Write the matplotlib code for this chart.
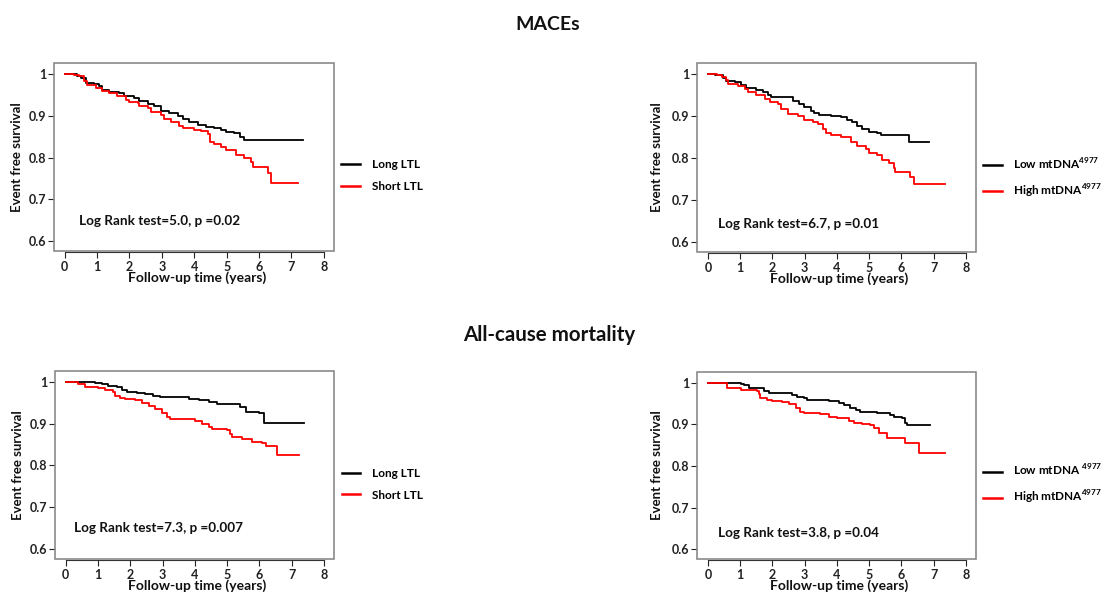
import matplotlib
matplotlib.use('Agg')
import matplotlib.pyplot as plt
from matplotlib.patches import Rectangle

plt.rcParams['font.family'] = ['Lato', 'DejaVu Sans']
plt.rcParams['font.weight'] = 'bold'
plt.rcParams['mathtext.fontset'] = 'custom'
plt.rcParams['mathtext.bf'] = 'Lato:bold'
plt.rcParams['mathtext.rm'] = 'Lato:bold'

# MACEs - telomere length (LTL)
maces_long_t = [0, 0.13, 0.39, 0.50, 0.65, 0.91, 1.06, 1.16, 1.37, 1.68, 1.84, 2.15, 2.30, 2.56, 2.76,
                2.97, 3.23, 3.49, 3.64, 3.85, 4.11, 4.37, 4.62, 4.83, 4.98, 5.24, 5.40, 5.55, 7.36]
maces_long_s = [1.0, 0.999, 0.995, 0.989, 0.978, 0.975, 0.970, 0.962, 0.957, 0.954, 0.948, 0.943, 0.934,
                0.927, 0.922, 0.912, 0.906, 0.899, 0.891, 0.884, 0.878, 0.872, 0.870, 0.866, 0.862, 0.859,
                0.849, 0.842, 0.842]
maces_short_t = [0, 0.29, 0.44, 0.60, 0.70, 0.96, 1.16, 1.37, 1.63, 1.89, 1.99, 2.25, 2.30, 2.56, 2.66,
                 2.97, 3.07, 3.28, 3.54, 3.64, 4.00, 4.21, 4.41, 4.47, 4.62, 4.83, 4.98, 5.29, 5.55, 5.76,
                 5.81, 6.27, 6.38, 7.20]
maces_short_s = [1.0, 0.997, 0.994, 0.983, 0.973, 0.965, 0.960, 0.954, 0.948, 0.938, 0.932, 0.930, 0.922,
                 0.918, 0.908, 0.902, 0.892, 0.884, 0.876, 0.870, 0.867, 0.864, 0.857, 0.838, 0.832, 0.825,
                 0.817, 0.807, 0.799, 0.789, 0.778, 0.762, 0.740, 0.740]

# MACEs - mtDNA4977 deletion
maces_low_t = [0, 0.22, 0.47, 0.57, 0.83, 1.04, 1.19, 1.50, 1.71, 1.86, 1.96, 2.63, 2.84, 2.99, 3.20,
               3.30, 3.46, 3.81, 4.12, 4.33, 4.48, 4.64, 4.79, 5.00, 5.26, 5.36, 6.23, 6.85]
maces_low_s = [1.0, 0.998, 0.991, 0.983, 0.980, 0.973, 0.967, 0.961, 0.956, 0.949, 0.945, 0.935, 0.929,
               0.921, 0.913, 0.907, 0.902, 0.901, 0.897, 0.891, 0.885, 0.877, 0.870, 0.862, 0.859, 0.854,
               0.839, 0.839]
maces_high_t = [0, 0.27, 0.42, 0.57, 0.63, 0.94, 1.14, 1.24, 1.50, 1.76, 1.91, 2.17, 2.27, 2.48, 2.79,
                2.99, 3.25, 3.40, 3.56, 3.66, 3.81, 4.12, 4.43, 4.64, 4.90, 5.00, 5.26, 5.41, 5.62, 5.77,
                5.82, 6.28, 6.39, 7.36]
maces_high_s = [1.0, 0.998, 0.993, 0.986, 0.977, 0.972, 0.965, 0.957, 0.949, 0.940, 0.933, 0.929, 0.917,
                0.905, 0.901, 0.891, 0.885, 0.881, 0.869, 0.859, 0.854, 0.849, 0.838, 0.828, 0.822, 0.812,
                0.808, 0.796, 0.788, 0.776, 0.766, 0.756, 0.738, 0.738]

# All-cause mortality - LTL
mort_long_t = [0, 0.60, 0.91, 1.12, 1.32, 1.58, 1.74, 1.89, 2.20, 2.46, 2.72, 2.93, 3.81, 4.12, 4.43,
               4.69, 5.41, 5.57, 5.98, 6.14, 7.38]
mort_long_s = [1.0, 0.999, 0.997, 0.995, 0.990, 0.987, 0.980, 0.976, 0.972, 0.970, 0.966, 0.963, 0.958,
               0.955, 0.951, 0.946, 0.939, 0.928, 0.925, 0.901, 0.901]
mort_short_t = [0, 0.19, 0.39, 0.60, 1.01, 1.22, 1.48, 1.53, 1.69, 1.84, 2.15, 2.36, 2.57, 2.77, 2.98,
                3.14, 3.24, 4.02, 4.22, 4.43, 4.53, 5.00, 5.10, 5.16, 5.47, 5.78, 6.09, 6.19, 6.55, 7.22]
mort_short_s = [1.0, 0.998, 0.995, 0.987, 0.984, 0.979, 0.974, 0.966, 0.961, 0.958, 0.957, 0.950, 0.942,
                0.934, 0.925, 0.915, 0.911, 0.905, 0.900, 0.892, 0.887, 0.884, 0.876, 0.869, 0.864, 0.857,
                0.854, 0.847, 0.824, 0.824]

# All-cause mortality - mtDNA4977
mort_low_t = [0, 0.55, 1.01, 1.12, 1.27, 1.53, 1.74, 1.89, 2.61, 2.77, 2.98, 3.08, 3.75, 4.06, 4.22,
              4.42, 4.58, 4.73, 5.25, 5.66, 5.77, 6.02, 6.13, 6.18, 6.90]
mort_low_s = [1.0, 0.999, 0.997, 0.994, 0.988, 0.986, 0.979, 0.976, 0.970, 0.966, 0.962, 0.958, 0.956,
              0.952, 0.946, 0.940, 0.934, 0.930, 0.927, 0.923, 0.918, 0.916, 0.903, 0.898, 0.898]
mort_high_t = [0, 0.13, 0.29, 0.60, 1.01, 1.27, 1.53, 1.58, 1.63, 1.84, 1.99, 2.30, 2.51, 2.72, 2.87,
               2.98, 3.49, 3.75, 4.01, 4.37, 4.53, 4.78, 5.04, 5.15, 5.30, 5.56, 6.13, 6.54, 7.37]
mort_high_s = [1.0, 0.999, 0.998, 0.986, 0.983, 0.982, 0.980, 0.972, 0.964, 0.959, 0.956, 0.954, 0.948,
               0.938, 0.930, 0.926, 0.924, 0.918, 0.914, 0.908, 0.903, 0.901, 0.898, 0.890, 0.879, 0.866,
               0.854, 0.831, 0.831]

ltl_labels = ['Long LTL', 'Short LTL']
mt_labels_top = [r'Low mtDNA$^{\mathbf{4977}}$', r'High mtDNA$^{\mathbf{4977}}$']
mt_labels_bot = [r'Low mtDNA $^{\mathbf{4977}}$', r'High mtDNA$^{\mathbf{4977}}$']

panels = [
    # axes rect, black curve, red curve, labels, stats text, text pos, legend y, ylabel x
    ([0.049, 0.5796, 0.254, 0.315], (maces_long_t, maces_long_s), (maces_short_t, maces_short_s),
     ltl_labels, 'Log Rank test=5.0, p =0.02', (0.089, 0.161), 0.402, -0.112),
    ([0.6328, 0.5779, 0.2526, 0.3166], (maces_low_t, maces_low_s), (maces_high_t, maces_high_s),
     mt_labels_top, 'Log Rank test=6.7, p =0.01', (0.074, 0.148), 0.392, -0.125),
    ([0.0499, 0.0637, 0.2532, 0.3154], (mort_long_t, mort_long_s), (mort_short_t, mort_short_s),
     ltl_labels, 'Log Rank test=7.3, p =0.007', (0.068, 0.165), 0.397, -0.112),
    ([0.6328, 0.0637, 0.2526, 0.3137], (mort_low_t, mort_low_s), (mort_high_t, mort_high_s),
     mt_labels_bot, 'Log Rank test=3.8, p =0.04', (0.074, 0.139), 0.396, -0.125),
]

fig = plt.figure(figsize=(11.02, 5.97), dpi=100)

for rect, black, red, labels, stat, tpos, legy, ylx in panels:
    ax = fig.add_axes(rect)
    l1, = ax.step(black[0], black[1], where='post', color='black', lw=1.3)
    l2, = ax.step(red[0], red[1], where='post', color='#ff0000', lw=1.3)
    ax.set_xlim(-0.33, 8.31)
    ax.set_ylim(0.577, 1.026)
    ax.set_xticks(range(0, 9))
    ax.set_yticks([0.6, 0.7, 0.8, 0.9, 1.0])
    ax.set_yticklabels(['0.6', '0.7', '0.8', '0.9', '1'])
    for s in ['top', 'right', 'left']:
        ax.spines[s].set_visible(False)
    ax.add_patch(Rectangle((0, 0), 1, 1, transform=ax.transAxes, fill=False,
                           ec='#8a8a8a', lw=1.2, clip_on=False, zorder=3))
    ax.spines['bottom'].set_bounds(0, 8)
    ax.spines['bottom'].set_position(('outward', 1))
    ax.spines['bottom'].set_color('#333333')
    ax.tick_params(axis='both', direction='out', length=4, width=0.8, labelsize=9,
                   colors='#222222', pad=2)
    ax.tick_params(axis='y', pad=1.5)
    for t in ax.get_xticklabels() + ax.get_yticklabels():
        t.set_fontweight('bold')
    ax.set_xlabel('Follow-up time (years)', fontsize=10, fontweight='bold', color='#111111')
    ax.xaxis.set_label_coords(0.51, -0.11)
    ax.set_ylabel('Event free survival', fontsize=9.5, fontweight='bold', color='#111111')
    ax.yaxis.set_label_coords(ylx, 0.5)
    ax.text(tpos[0], tpos[1], stat, transform=ax.transAxes, fontsize=9.7,
            fontweight='bold', color='#111111', va='center', ha='left')
    ax.legend([l1, l2], labels, loc='center left', bbox_to_anchor=(1.027, legy),
              frameon=False, fontsize=8.5, handlelength=1.55, handletextpad=1.0,
              labelspacing=0.9, borderpad=0, borderaxespad=0)
    for h in ax.get_legend().get_lines():
        h.set_linewidth(1.8)

fig.text(548 / 1102, 1 - 25 / 597, 'MACEs', ha='center', va='center',
         fontsize=14, fontweight='bold', color='#111111')
fig.text(549 / 1102, 1 - 335 / 597, 'All-cause mortality', ha='center', va='center',
         fontsize=14.8, fontweight='bold', color='#111111')

fig.savefig('out.png', dpi=100)
